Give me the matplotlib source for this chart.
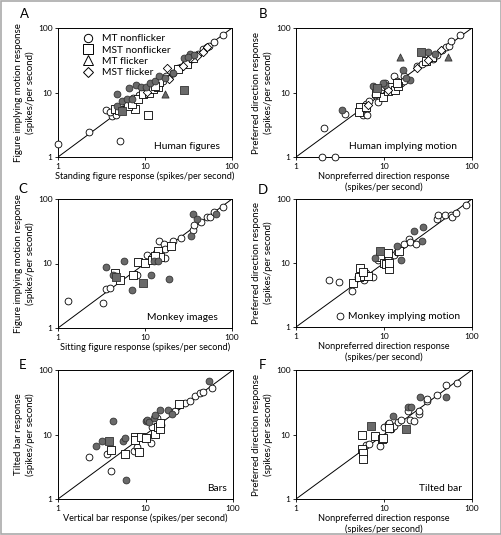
import matplotlib
matplotlib.use("Agg")
import matplotlib.pyplot as plt
from matplotlib.patches import Rectangle

plt.rcParams['font.family'] = ['Lato', 'DejaVu Sans']

# ---------------- data (spikes/s) ----------------
# A: human figures, standing vs implying motion
A_circ = [(1.0, 1.6), (2.3, 2.45), (5.1, 1.8), (4.2, 4.3), (4.7, 4.4), (3.6, 5.4), (4.0, 5.0),
          (6.0, 6.3), (6.5, 7.0), (7.2, 8.3), (8.5, 9.0), (10, 10.5), (11.5, 11.5), (12.5, 13.5),
          (14, 13), (16, 15), (17.5, 18), (19, 17), (21, 20), (24, 24), (26, 25), (29, 28),
          (31, 30), (34, 33), (37, 36), (41, 39), (47, 47), (51, 50), (55, 52), (62, 60), (79, 77)]
A_sq = [(10.8, 4.5), (7.7, 5.5), (4.5, 5.6), (5.0, 5.3), (6.3, 6.2), (7.0, 6.7), (8.3, 8.0),
        (9.5, 9.5), (11, 10), (12.5, 11.5), (14, 12), (14.5, 14.5), (13, 12.5), (24, 23.5),
        (30, 28), (36, 34)]
A_diam = [(18, 24), (19, 16), (27, 26), (33, 34), (40, 37), (46, 42), (52, 50), (10.5, 10.2)]
A_fcirc = [(4.8, 9.5), (4.8, 6.2), (5.5, 7.5), (6.2, 7.8), (7.0, 8.0), (7.8, 13.2), (6.5, 11.8),
           (9.0, 12.0), (10.2, 12.3), (11.5, 14), (13, 15), (14.5, 18), (17, 17), (21, 20),
           (28, 34), (33, 40), (37, 38), (31, 36)]
A_fsq = [(28, 11), (5.4, 5.2)]
A_ftri = [(17, 9.6)]

# B: human implying motion, nonpreferred vs preferred
B_circ = [(2.0, 1.0), (2.8, 1.0), (2.1, 2.8), (3.6, 4.6), (5.8, 4.5), (6.4, 4.4), (6.2, 6.6),
          (6.8, 7.3), (7.8, 9.0), (8.6, 7.0), (10.2, 14), (10, 12), (13, 18), (14, 15),
          (15.5, 14), (17, 18), (17, 15), (24, 26), (27, 28), (30, 30), (33, 34), (36, 33),
          (40, 38), (46, 45), (50, 50), (55, 53), (58, 63), (74, 78)]
B_sq = [(5.3, 6.0), (5.2, 5.0), (6.3, 6.0), (9.8, 8.4), (11, 10.5), (12, 12), (13.5, 11),
        (14.5, 12.5), (14, 14), (8.2, 10), (30, 31), (35, 35)]
B_diam = [(6.5, 6.5), (11, 11), (24, 24), (32, 32), (45, 46)]
B_fcirc = [(3.3, 5.4), (7.5, 12.5), (10.2, 13.2), (16.5, 22), (19.5, 15.5), (18, 17),
           (32, 43), (38, 40), (9.8, 14)]
B_fsq = [(8.4, 11.7), (26, 42)]
B_ftri = [(15.3, 35), (54, 35)]

# C: monkey images, sitting vs implying motion
C_circ = [(1.3, 2.6), (3.3, 2.4), (3.6, 4.0), (4.0, 4.1), (8.1, 6.7), (10.5, 13.5), (12, 12.5),
          (13, 12), (14.4, 22), (16.5, 20), (17, 17), (17, 12), (21, 22), (13.5, 14.5), (26, 25),
          (36, 33), (37, 40), (44, 44), (52, 52), (56, 53), (62, 62), (78, 76)]
C_sq = [(4.5, 7.0), (5.1, 5.5), (8.2, 10.6), (7.2, 6.6), (10, 10.2), (12, 11.5), (14, 15.5),
        (15, 12.5), (20, 19), (13, 13)]
C_fcirc = [(3.6, 8.8), (5.8, 11), (4.3, 6.7), (4.6, 6.3), (7, 3.9), (11.6, 6.7), (18.7, 5.75),
           (12.8, 11), (14, 10.8), (34, 27), (36, 58), (40, 49), (66, 58)]
C_fsq = [(4.6, 6.2), (9.5, 5.0)]

# D: monkey implying motion, nonpreferred vs preferred
D_circ = [(3.2, 1.5), (2.4, 5.4), (3.1, 5.0), (4.3, 3.7), (5.0, 6.0), (6.0, 5.4), (6.2, 7.0),
          (7.5, 6.0), (8.5, 11), (11, 12), (13, 13.5), (14, 15), (17, 20), (19, 24), (20, 21),
          (23, 20), (40, 48), (41, 56), (49, 56), (57, 57), (60, 53), (65, 61), (85, 80)]
D_sq = [(4.5, 4.8), (5.4, 8.5), (5.2, 6.0), (6.0, 6.3), (6.6, 6.2), (5.8, 7.3), (9.0, 12.5),
        (10, 10), (10.5, 9.5), (11, 14.5), (11.5, 8.0), (11.5, 10), (15, 15.5)]
D_fcirc = [(8, 11.8), (14, 18.7), (15.8, 11.2), (21.7, 31.5), (27, 22), (27.7, 37)]
D_fsq = [(9, 15.2)]

# E: bars, vertical vs tilted
E_circ = [(2.27, 4.4), (3.6, 5.0), (4.0, 2.7), (7.3, 5.6), (8.0, 6.5), (11.6, 7.3), (12.5, 15.5),
          (13.5, 18), (15, 14), (20, 22), (22, 23), (25, 30), (28, 31), (32, 33), (37, 40),
          (42, 44), (46, 45), (58, 53), (12, 13)]
E_sq = [(4.0, 5.8), (5.8, 5.0), (7.5, 9.0), (7.6, 8.2), (8.5, 5.4), (9, 9), (10.2, 8.8),
        (13, 10.2), (14, 13), (14.5, 12), (14.5, 15.3), (24, 30)]
E_fcirc = [(2.7, 6.7), (3.2, 7.8), (4.3, 16), (5.5, 8), (5.8, 8.7), (6, 2), (10, 16),
           (10.3, 17), (11, 15.5), (12.5, 18), (13, 20), (14.5, 24), (18, 24), (20, 21), (53, 67)]
E_fsq = [(3.8, 7.8)]

# F: tilted bar, nonpreferred vs preferred
F_circ = [(6.2, 6.9), (6.8, 7.0), (9.0, 6.7), (10, 13), (11, 14.5), (12, 12), (13, 13.5),
          (14.5, 15.5), (15.5, 16.5), (18.5, 23), (20, 16.5), (22, 16), (25, 21), (25, 23),
          (31, 33), (31, 36), (40, 41), (50, 58), (68, 64), (11.5, 15)]
F_sq = [(5.6, 10), (5.6, 6), (5.8, 5.2), (5.8, 4.2), (8, 9.5), (9.5, 8.5), (11.5, 12.5), (9.8, 8.8)]
F_fcirc = [(12.7, 19.5), (18.5, 27), (20.5, 27), (25.8, 37.6), (51, 38.6)]
F_fsq = [(7.2, 13.7), (17.7, 12.2)]

# ---------------- figure ----------------
W, H = 502, 535
fig = plt.figure(figsize=(W / 100, H / 100), dpi=100)
fig.patches.append(Rectangle((0.002, 0.002), 0.996, 0.996, transform=fig.transFigure,
                             fill=False, edgecolor='#aaaaaa', lw=1.2))

GRAY = '#6a6a6a'
FS = 6.0


def px_axes(x0, y0, x1, y1):
    return fig.add_axes([x0 / W, 1 - y1 / H, (x1 - x0) / W, (y1 - y0) / H])


def pts(ax, data, marker, filled, s):
    if not data:
        return
    xs = [p[0] for p in data]
    ys = [p[1] for p in data]
    ax.scatter(xs, ys, marker=marker, s=s, linewidths=0.6, zorder=3,
               facecolors=GRAY if filled else 'white',
               edgecolors='#333333' if filled else 'black', clip_on=False)


def panel(pos, letter, letter_xy, groups, xlabel, ylabel, note, note_x):
    ax = px_axes(*pos)
    ax.set_xscale('log')
    ax.set_yscale('log')
    ax.set_xlim(1, 100)
    ax.set_ylim(1, 100)
    ax.plot([1, 100], [1, 100], color='black', lw=0.7, zorder=2)
    for data, marker, filled, s in groups:
        pts(ax, data, marker, filled, s)
    ax.set_xticks([1, 10, 100])
    ax.set_yticks([1, 10, 100])
    ax.set_xticklabels(['1', '10', '100'])
    ax.set_yticklabels(['1', '10', '100'])
    ax.minorticks_off()
    ax.tick_params(labelsize=FS, length=2.5, width=0.6, pad=1.5)
    for sp in ax.spines.values():
        sp.set_linewidth(0.7)
    ax.set_xlabel(xlabel, fontsize=6.6, labelpad=1.5, linespacing=1.25)
    ax.set_ylabel(ylabel, fontsize=7.0, labelpad=2, linespacing=1.3)
    ax.text(note_x, 0.05, note, transform=ax.transAxes, ha='right', va='bottom', fontsize=7.4)
    fig.text(letter_xy[0] / W, 1 - letter_xy[1] / H, letter, fontsize=9.5, ha='center', va='center')
    return ax


ylab_fig = 'Figure implying motion response\n(spikes/per second)'
ylab_pref = 'Preferred direction response\n(spikes/per second)'
xlab_np = 'Nonpreferred direction response\n(spikes/per second)'

axA = panel((58, 28, 232, 157), 'A', (24, 14),
            [(A_circ, 'o', False, 24), (A_sq, 's', False, 34), (A_diam, 'D', False, 18),
             (A_fcirc, 'o', True, 24), (A_fsq, 's', True, 34), (A_ftri, '^', True, 26)],
            'Standing figure response (spikes/per second)', ylab_fig, 'Human figures', 0.93)
leg_handles = [
    plt.Line2D([], [], ls='none', marker='o', mfc='white', mec='black', ms=6, mew=0.7),
    plt.Line2D([], [], ls='none', marker='s', mfc='white', mec='black', ms=6.5, mew=0.7),
    plt.Line2D([], [], ls='none', marker='^', mfc='white', mec='black', ms=6.5, mew=0.7),
    plt.Line2D([], [], ls='none', marker='D', mfc='white', mec='black', ms=5, mew=0.7),
]
axA.legend(leg_handles, ['MT nonflicker', 'MST nonflicker', 'MT flicker', 'MST flicker'],
           loc='upper left', frameon=False, fontsize=7.4, handletextpad=0.3,
           labelspacing=0.2, borderaxespad=0.2, bbox_to_anchor=(0.08, 1.0))

panel((296, 28, 472, 157), 'B', (263, 14),
      [(B_circ, 'o', False, 24), (B_sq, 's', False, 34), (B_diam, 'D', False, 18),
       (B_fcirc, 'o', True, 24), (B_fsq, 's', True, 34), (B_ftri, '^', True, 26)],
      xlab_np, ylab_pref, 'Human implying motion', 0.915)

panel((58, 199, 232, 328), 'C', (23, 189),
      [(C_circ, 'o', False, 24), (C_sq, 's', False, 34),
       (C_fcirc, 'o', True, 24), (C_fsq, 's', True, 34)],
      'Sitting figure response (spikes/per second)', ylab_fig, 'Monkey images', 0.92)

panel((296, 199, 472, 327), 'D', (263, 190),
      [(D_circ, 'o', False, 24), (D_sq, 's', False, 34),
       (D_fcirc, 'o', True, 24), (D_fsq, 's', True, 34)],
      xlab_np, ylab_pref, 'Monkey implying motion', 0.93)

panel((58, 370, 233, 499), 'E', (23, 365),
      [(E_circ, 'o', False, 24), (E_sq, 's', False, 34),
       (E_fcirc, 'o', True, 24), (E_fsq, 's', True, 34)],
      'Vertical bar response (spikes/per second)', 'Tilted bar response\n(spikes/per second)',
      'Bars', 0.965)

panel((296, 370, 472, 499), 'F', (263, 365),
      [(F_circ, 'o', False, 24), (F_sq, 's', False, 34),
       (F_fcirc, 'o', True, 24), (F_fsq, 's', True, 34)],
      xlab_np, ylab_pref, 'Tilted bar', 0.943)

fig.savefig('out.png', dpi=100)
